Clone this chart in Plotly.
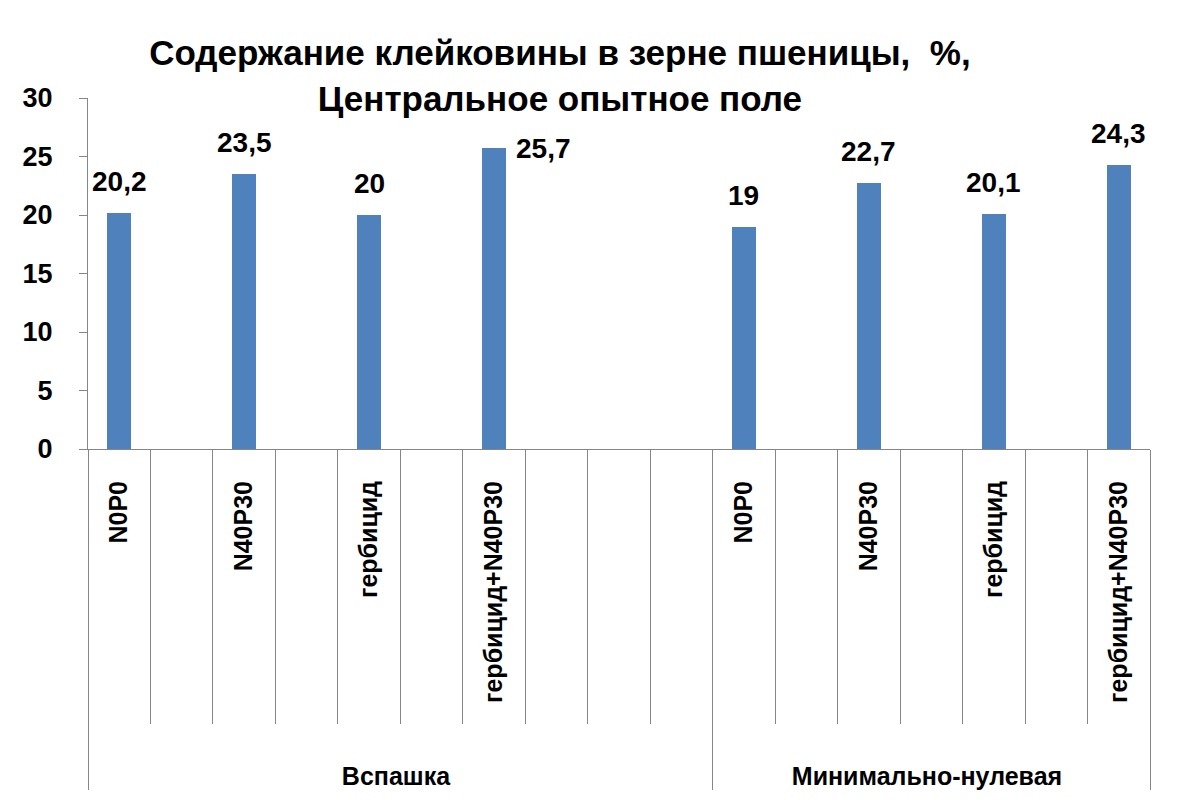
import plotly.graph_objects as go

# --- data ---
groups = ["Вспашка"] * 10 + ["Минимально-нулевая"] * 7
categories = ["N0P0", " ", "N40P30", "  ", "гербицид", "   ", "гербицид+N40P30", "    ", "     ", "      ",
              "N0P0", " ", "N40P30", "  ", "гербицид", "   ", "гербицид+N40P30"]
values = [20.2, None, 23.5, None, 20.0, None, 25.7, None, None, None,
          19.0, None, 22.7, None, 20.1, None, 24.3]
side_label_index = [6]  # label placed to the right of the bar
title_lines = ["Содержание клейковины в зерне пшеницы,  %,", "Центральное опытное поле"]

FONT = "Liberation Sans"
BAR = "#4F81BD"
AX = "#868686"
PAD = "\u00a0" * 8  # invisible padding below the rotated labels (pushes group labels down)

def fmt(v):
    return ("%g" % v).replace(".", ",")

tick_labels = [PAD + c if c.strip() else c for c in categories]

fig = go.Figure()
fig.add_trace(go.Bar(
    x=[groups, tick_labels], y=values,
    marker=dict(color=BAR, line=dict(width=0)),
    width=0.385,
    hoverinfo="y",
))
for i, v in enumerate(values):
    if v is None:
        continue
    if i in side_label_index:
        fig.add_annotation(x=i, y=v, text=fmt(v), xref="x", yref="y", showarrow=False,
                           xanchor="left", yanchor="middle", xshift=20,
                           font=dict(family=FONT, size=28, color="black", weight="bold"))
    else:
        fig.add_annotation(x=i, y=v, text=fmt(v), xref="x", yref="y", showarrow=False,
                           xanchor="center", yanchor="bottom", yshift=14,
                           font=dict(family=FONT, size=28, color="black", weight="bold"))

fig.update_layout(
    width=1192, height=798,
    margin=dict(l=80, r=50, t=90, b=357, autoexpand=False),
    plot_bgcolor="white", paper_bgcolor="white",
    showlegend=False,
    bargap=0,
    title=dict(text="<br>".join(title_lines),
               x=0.463, xanchor="center", y=1 - 57 / 798, yanchor="top",
               font=dict(family=FONT, size=35, color="black", weight="bold")),
    font=dict(family=FONT, color="black"),
)
fig.update_yaxes(range=[0, 30], tick0=0, dtick=5, showgrid=False, zeroline=False,
                 showline=True, linecolor=AX, linewidth=1,
                 ticks="outside", ticklen=8, tickcolor=AX, ticklabelstandoff=21,
                 tickfont=dict(family=FONT, size=27, color="black", weight="bold"),
                 automargin=False)
fig.update_xaxes(type="multicategory", showgrid=False, showline=True, linecolor=AX, linewidth=1,
                 ticks="outside", ticklen=274, tickcolor=AX,
                 tickangle=-90, ticklabelstandoff=21,
                 tickfont=dict(family=FONT, size=25, color="black", weight="bold"),
                 showdividers=True, dividercolor=AX, dividerwidth=1,
                 automargin=False)

fig.write_html("out.html")
